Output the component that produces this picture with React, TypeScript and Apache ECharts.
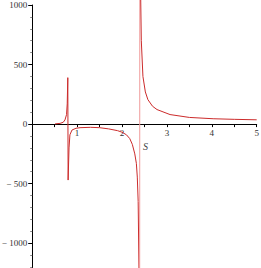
import React, { useEffect, useRef } from "react";
import * as echarts from "echarts";

// Branch left of the pole near S ≈ 2.39
const leftXs = [
  0.51, 0.62, 0.69, 0.73, 0.765, 0.78, 0.793, 0.8, 0.82, 0.84, 0.886, 0.975, 1.065,
  1.3, 1.5, 1.7, 1.9, 2.0, 2.1, 2.173, 2.23, 2.285, 2.32, 2.341, 2.36, 2.379, 2.39,
];
const leftYs = [
  2, 6, 15, 35, 80, 170, 390, -470, -200, -90, -50, -35, -30,
  -27, -30, -40, -55, -68, -90, -122, -170, -250, -330, -445, -650, -1250, -5000,
];
// Branch right of the pole
const rightXs = [2.4, 2.415, 2.43, 2.466, 2.52, 2.577, 2.68, 2.78, 3.07, 3.5, 4.03, 4.5, 5.0];
const rightYs = [5000, 1100, 700, 400, 270, 205, 150, 122, 80, 56, 45, 40, 36];

const xTickValues = [1, 2, 3, 4, 5];
const yTickValues = [-1000, -500, 0, 500, 1000];
const xAxisName = "S";

const SERIF = '"Liberation Serif", "DejaVu Serif", serif';
const GRID_LEFT = 32.2;
const GRID_WIDTH = 224.5;
const GRID_TOP = 5;
const Y_MIN = -1500;
const Y_MAX = 1000;
const GRID_HEIGHT = 297.75;
const CURVE = "#cc2b2b";

export default function App() {
  const ref = useRef<HTMLDivElement>(null);
  useEffect(() => {
    if (!ref.current) return;
    const chart = echarts.init(ref.current, undefined, { renderer: "svg" });
    const left = leftXs.map((x, i) => [x, leftYs[i]]);
    const right = rightXs.map((x, i) => [x, rightYs[i]]);
    const connector = [left[left.length - 1], right[0]];
    const zeroOffset = (GRID_HEIGHT * (Y_MAX - 0)) / (Y_MAX - Y_MIN);
    const lineSeries = (data: number[][], color: string) => ({
      type: "line",
      xAxisIndex: 0,
      yAxisIndex: 0,
      data,
      showSymbol: false,
      clip: false,
      lineStyle: { color, width: 1 },
    });
    chart.setOption({
      animation: false,
      grid: [
        {
          left: GRID_LEFT,
          width: GRID_WIDTH,
          top: GRID_TOP,
          height: GRID_HEIGHT,
          containLabel: false,
          outerBoundsMode: "none",
        },
        {
          left: GRID_LEFT,
          width: GRID_WIDTH,
          top: GRID_TOP,
          height: zeroOffset,
          containLabel: false,
          outerBoundsMode: "none",
        },
      ],
      xAxis: [
        {
          type: "value",
          gridIndex: 0,
          min: 0,
          max: 5,
          interval: 1,
          axisLine: { onZero: true, lineStyle: { color: "#000", width: 1 } },
          axisTick: { show: true, length: 3, lineStyle: { color: "#000" } },
          minorTick: { show: true, splitNumber: 2, length: 3, lineStyle: { color: "#000" } },
          splitLine: { show: false },
          axisLabel: { show: false },
        },
        {
          type: "value",
          gridIndex: 1,
          position: "bottom",
          min: 0,
          max: 5,
          interval: 1,
          axisLine: { show: false, onZero: false },
          axisTick: { show: false },
          splitLine: { show: false },
          axisLabel: {
            formatter: (v: number) => (xTickValues.includes(v) ? String(v) : ""),
            fontFamily: SERIF,
            fontSize: 9,
            color: "#333",
            margin: 4,
          },
        },
      ],
      yAxis: [
        {
          type: "value",
          gridIndex: 0,
          min: Y_MIN,
          max: Y_MAX,
          interval: 500,
          axisLine: { show: true, onZero: false, lineStyle: { color: "#000", width: 1 } },
          axisTick: { show: true, length: 4, lineStyle: { color: "#000" } },
          minorTick: { show: true, splitNumber: 5, length: 2, lineStyle: { color: "#888" } },
          splitLine: { show: false },
          axisLabel: {
            formatter: (v: number) =>
              yTickValues.includes(v) ? (v < 0 ? "\u2212 " + String(-v) : String(v)) : "",
            fontFamily: SERIF,
            fontSize: 9,
            color: "#333",
            margin: 5,
          },
        },
        {
          type: "value",
          gridIndex: 1,
          min: 0,
          max: Y_MAX,
          show: false,
        },
      ],
      graphic: [
        {
          type: "text",
          left: 143,
          top: 141,
          style: { text: xAxisName, font: 'italic 10px "Liberation Serif", serif', fill: "#444" },
        },
      ],
      series: [
        lineSeries(left, CURVE),
        lineSeries(connector, "#f09a9a"),
        lineSeries(right, CURVE),
      ],
    });
    return () => chart.dispose();
  }, []);
  return (
    <div
      ref={ref}
      style={{ position: "absolute", left: 0, top: 0, width: 261, height: 268 }}
    />
  );
}
